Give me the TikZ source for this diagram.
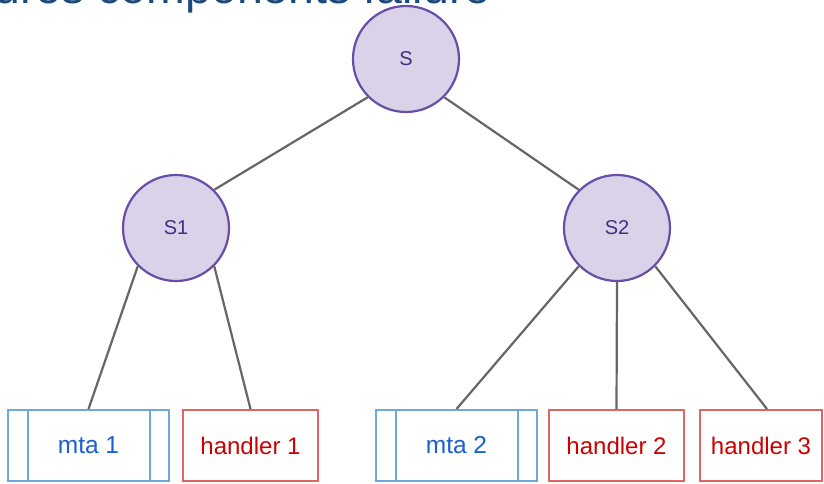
\documentclass[tikz,border=0pt]{standalone}
\usepackage{fontspec}
\setmainfont{Liberation Sans}
\definecolor{titleblue}{HTML}{1D4A7C}
\definecolor{circfill}{HTML}{D9D2E9}
\definecolor{circdraw}{HTML}{674EA7}
\definecolor{circtext}{HTML}{40307F}
\definecolor{linkgray}{HTML}{666666}
\definecolor{mtadraw}{HTML}{6FA8DC}
\definecolor{mtatext}{HTML}{1A5FD0}
\definecolor{hdldraw}{HTML}{E06666}
\definecolor{hdltext}{HTML}{CC0000}
\tikzset{
  svc/.style={circle, draw=circdraw, fill=circfill, line width=2.2pt,
    minimum size=106pt, inner sep=0pt, text=circtext, font=\fontsize{20}{22}\selectfont},
  mtabox/.style={rectangle, draw=mtadraw, line width=2pt, minimum width=161pt,
    minimum height=71pt, inner sep=0pt, text=mtatext, font=\fontsize{24.5}{26}\selectfont},
  hdlbox/.style={rectangle, draw=hdldraw, line width=2pt, minimum width=135pt,
    minimum height=71pt, inner sep=0pt, text=hdltext, font=\fontsize{24}{26}\selectfont},
  link/.style={draw=linkgray, line width=2.2pt},
  sidebar/.style={draw=mtadraw, line width=2pt}
}
\begin{document}
\begin{tikzpicture}[x=1pt,y=-1pt]
\useasboundingbox (0,0) rectangle (824,483);
\clip (0,0) rectangle (824,483);
\fill[white] (0,0) rectangle (824,483);

% heading, only its lower part lies inside the frame
\node[anchor=base west, inner sep=0pt, text=titleblue,
      font=\fontsize{46.5}{50}\selectfont] (title) at (-6,3) {ures components failure};

% services
\node[svc] (s)  at (406,59)  {S};
\node[svc] (s1) at (176,228) {S1};
\node[svc] (s2) at (617,228) {S2};

% leaves
\node[mtabox] (m1) at (88.5,445.5) {mta 1};
\node[hdlbox] (h1) at (250.5,445.5) {handler 1};
\node[mtabox] (m2) at (456.5,445.5) {mta 2};
\node[hdlbox] (h2) at (616.5,445.5) {handler 2};
\node[hdlbox, minimum width=122pt] (h3) at (761,445.5) {handler 3};

% side bars of the mta boxes
\foreach \b in {m1,m2} {
  \draw[sidebar] ([xshift=21pt]\b.north west) -- ([xshift=21pt]\b.south west);
  \draw[sidebar] ([xshift=-20pt]\b.north east) -- ([xshift=-20pt]\b.south east);
}

% links
\draw[link] (s.south west) -- (s1.north east);
\draw[link] (s.south east) -- (s2.north west);
\draw[link] (s1.south west) -- (m1.north);
\draw[link] (s1.south east) -- (h1.north);
\draw[link] (s2.south west) -- (m2.north);
\draw[link] (s2.south) -- (h2.north);
\draw[link] (s2.south east) -- ([xshift=6pt]h3.north);
\end{tikzpicture}
\end{document}
